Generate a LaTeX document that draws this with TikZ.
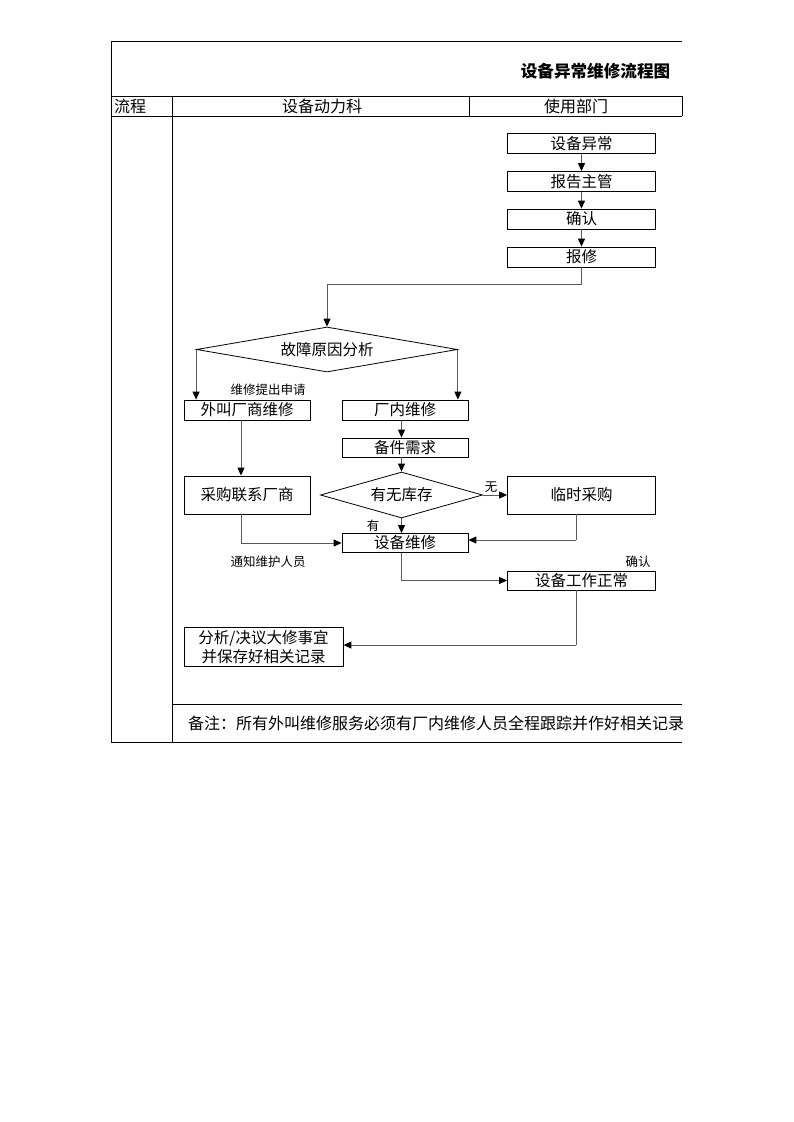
\documentclass[tikz,border=0pt]{standalone}
\usepackage{fontspec}
\newfontfamily\cjk{Noto Sans CJK SC}
\usetikzlibrary{shapes.geometric,arrows.meta}

\tikzset{
  box/.style={draw,line width=0.8pt,inner sep=0pt,font=\cjk\fontsize{15.5}{19}\selectfont},
  dia/.style={draw,diamond,line width=0.8pt,inner sep=0pt,font=\cjk\fontsize{15.5}{19}\selectfont},
  lbl/.style={inner sep=0pt,font=\cjk\fontsize{12.5}{15}\selectfont},
  cell/.style={inner sep=0pt,font=\cjk\fontsize{16}{19}\selectfont},
  flow/.style={draw=black!65,line width=1pt,-{Triangle[length=8pt,width=7pt,black]}},
  link/.style={draw=black!65,line width=1pt},
}

\begin{document}
\begin{tikzpicture}[x=1pt,y=1pt,yscale=-1]
\useasboundingbox (0,0) rectangle (793,1122);
%Table frame
\draw [line width=0.8pt] (682,41) -- (111,41) -- (111,742) -- (682,742) ;
\draw [line width=0.8pt] (111,96) -- (682,96) ;
\draw [line width=0.8pt] (111,116) -- (682,116) ;
\draw [line width=0.8pt] (172,96) -- (172,742) ;
\draw [line width=0.8pt] (469,96) -- (469,116) ;
\draw [line width=0.8pt] (682,96) -- (682,116) ;
\draw [line width=0.8pt] (172,704) -- (682,704) ;

% Text Node
\node (title) [cell,font=\cjk\bfseries\fontsize{16.6}{19}\selectfont] at (595.5,71) {设备异常维修流程图};
\node (hflow) [cell] at (130,106) {流程};
\node (hdept) [cell] at (322,106) {设备动力科};
\node (huser) [cell] at (576,106) {使用部门};
\node (remark) [cell,anchor=west] at (188,723) {备注：所有外叫维修服务必须有厂内维修人员全程跟踪并作好相关记录};

%Boxes
\node (fault) [box,minimum width=148,minimum height=20] at (581.5,143.5) {设备异常};
\node (report) [box,minimum width=148,minimum height=20] at (581.5,181.5) {报告主管};
\node (confirm) [box,minimum width=148,minimum height=20] at (581.5,219) {确认};
\node (request) [box,minimum width=148,minimum height=20] at (581.5,257) {报修};
\node (cause) [dia,shape aspect=5.8,minimum width=261,minimum height=45] at (327,349.5) {故障原因分析};
\node (outside) [box,minimum width=126,minimum height=20] at (247,410) {外叫厂商维修};
\node (inside) [box,minimum width=126,minimum height=20] at (405,410) {厂内维修};
\node (parts) [box,minimum width=126,minimum height=19] at (405,447.5) {备件需求};
\node (stock) [dia,shape aspect=3.5,minimum width=162,minimum height=46] at (401.5,495) {有无库存};
\node (vendor) [box,minimum width=126,minimum height=38] at (247,495) {采购联系厂商};
\node (buy) [box,minimum width=148,minimum height=38] at (581.5,495) {临时采购};
\node (repair) [box,minimum width=126,minimum height=19] at (405,543) {设备维修};
\node (normal) [box,minimum width=148,minimum height=19] at (581.5,580.5) {设备工作正常};
\node (record) [box,minimum width=159,minimum height=39,align=center] at (263.5,647) {分析/决议大修事宜\\并保存好相关记录};

%Bends
\coordinate (b1) at (327,284);
\coordinate (b2) at (241,543);
\coordinate (b3) at (576,540);
\coordinate (b4) at (576,645);

%Connectors
\draw [flow] (fault) -- (report) ;
\draw [flow] (report) -- (confirm) ;
\draw [flow] (confirm) -- (request) ;
\draw [link] (request.south) |- (b1) ;
\draw [flow] (b1) -- (cause.north) ;
\draw [flow] (cause.west) -- (cause.west |- outside.north) ;
\draw [flow] (cause.east) -- (cause.east |- inside.north) ;
\draw [flow] (inside.south -| stock.north) -- (parts.north -| stock.north) ;
\draw [flow] (parts.south -| stock.north) -- (stock.north) ;
\draw [flow] (outside.south -| b2) -- (vendor.north -| b2) ;
\draw [flow] (stock.east) -- (buy.west) ;
\draw [flow] (stock.south) -- (stock.south |- repair.north) ;
\draw [link] (vendor.south -| b2) -- (b2) ;
\draw [flow] (b2) -- (repair.west |- b2) ;
\draw [link] (buy.south -| b3) -- (b3) ;
\draw [flow] (b3) -- (repair.east |- b3) ;
\draw [flow] (repair.south -| stock.south) |- (normal.west) ;
\draw [link] (normal.south -| b4) -- (b4) ;
\draw [flow] (b4) -- (record.east |- b4) ;

% Text Node
\node (apply) [lbl] at (268,390) {维修提出申请};
\node (none) [lbl] at (491,487) {无};
\node (have) [lbl] at (373,526) {有};
\node (notify) [lbl] at (268,562) {通知维护人员};
\node (check) [lbl] at (638,562) {确认};
\end{tikzpicture}
\end{document}
